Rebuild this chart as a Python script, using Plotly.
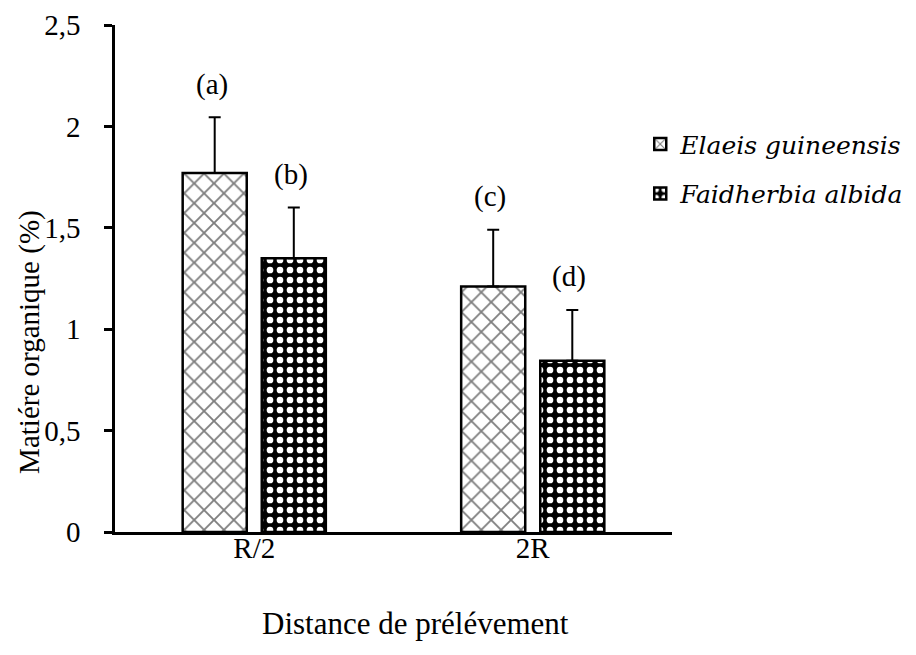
import plotly.graph_objects as go

# Data
distances = ["R/2", "2R"]
elaeis_mo = [1.77, 1.21]
elaeis_err = [0.275, 0.28]
faidherbia_mo = [1.35, 0.845]
faidherbia_err = [0.25, 0.25]
elaeis_letters = ["(a)", "(c)"]
faidherbia_letters = ["(b)", "(d)"]

FONT = "Liberation Serif"
ITALIC_FONT = "DejaVu Serif"

fig = go.Figure()

fig.add_trace(go.Bar(
    x=distances, y=elaeis_mo, name="Elaeis guineensis",
    legendgroup="e",
    marker=dict(color="white", line=dict(color="black", width=2.5),
                pattern=dict(shape="x", fgcolor="black", bgcolor="white",
                             size=14, solidity=0.25)),
    error_y=dict(type="data", array=elaeis_err, arrayminus=[0, 0],
                 symmetric=False, color="black", thickness=2, width=6),
))
fig.add_trace(go.Bar(
    x=distances, y=faidherbia_mo, name="Faidherbia albida",
    legendgroup="f",
    marker=dict(color="black", line=dict(color="black", width=2.5),
                pattern=dict(shape=".", fgcolor="white", bgcolor="black",
                             size=10, solidity=0.35, fillmode="replace")),
    error_y=dict(type="data", array=faidherbia_err, arrayminus=[0, 0],
                 symmetric=False, color="black", thickness=2, width=6),
))

# Significance letters above each error bar
for vals, errs, letters, shift in [
    (elaeis_mo, elaeis_err, elaeis_letters, -39.5),
    (faidherbia_mo, faidherbia_err, faidherbia_letters, 39.5),
]:
    for cat, v, e, t in zip(distances, vals, errs, letters):
        fig.add_annotation(x=cat, y=v + e, text=t, showarrow=False,
                           xshift=shift - 3, yshift=33, yanchor="middle",
                           font=dict(family=FONT, size=29, color="black"))

# Axis titles
fig.add_annotation(x=0, y=0.375, xref="paper", yref="paper", xshift=-85,
                   text="Matiére organique (%)", textangle=-90,
                   showarrow=False, xanchor="center", yanchor="middle",
                   font=dict(family=FONT, size=29, color="black"))
fig.add_annotation(x=0.5, y=0, xref="paper", yref="paper", xshift=22,
                   yshift=-91, text="Distance de prélévement",
                   showarrow=False, xanchor="center", yanchor="middle",
                   font=dict(family=FONT, size=31, color="black"))

fig.update_layout(
    width=916, height=655,
    margin=dict(l=115, r=244, t=25, b=123, autoexpand=False),
    paper_bgcolor="white", plot_bgcolor="white",
    barmode="group", bargap=0.432, bargroupgap=0.19,
    font=dict(family=FONT, size=29, color="black"),
    legend=dict(x=0.943, y=0.81, xanchor="left", yanchor="top",
                font=dict(family=ITALIC_FONT, size=25, color="black",
                          style="italic"),
                traceorder="grouped", tracegroupgap=14,
                bgcolor="rgba(0,0,0,0)", itemwidth=30),
    xaxis=dict(showline=True, linecolor="black", linewidth=2.5,
               ticks="", showgrid=False, ticklabelstandoff=-12,
               tickfont=dict(family=FONT, size=29)),
    yaxis=dict(range=[0, 2.5], tickvals=[0, 0.5, 1, 1.5, 2, 2.5],
               ticktext=["0", "0,5", "1", "1,5", "2", "2,5"],
               showline=True, linecolor="black", linewidth=2.5,
               ticks="outside", ticklen=8, tickwidth=2.5, tickcolor="black",
               ticklabelstandoff=18,
               showgrid=False, zeroline=False,
               tickfont=dict(family=FONT, size=29)),
)

fig.write_html("out.html")
